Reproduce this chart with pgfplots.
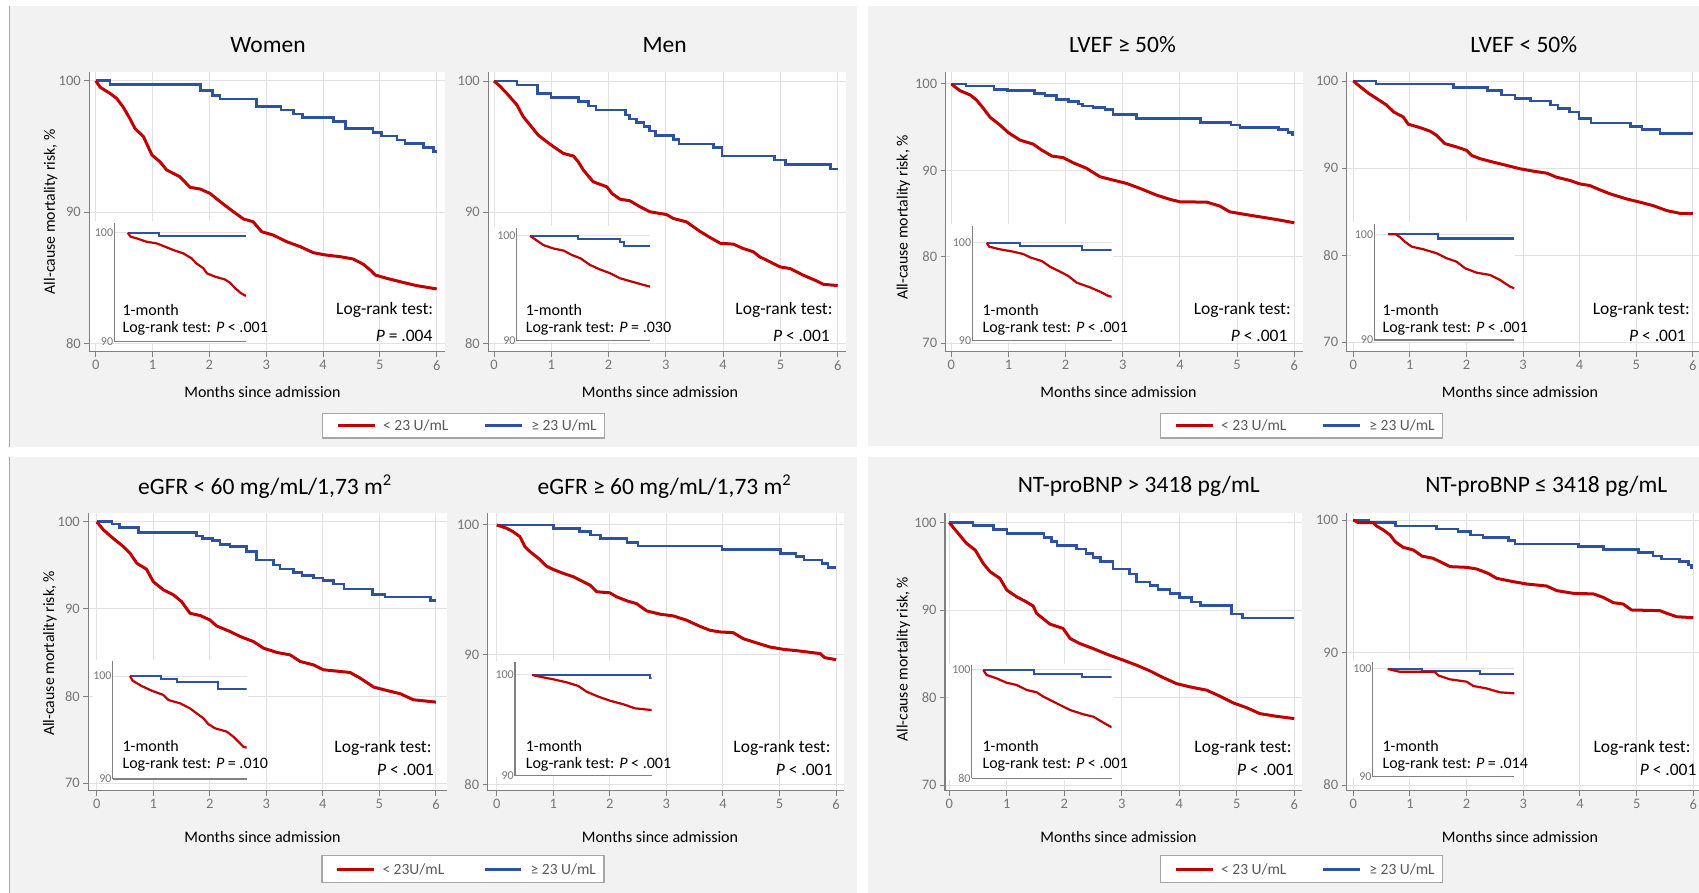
\documentclass[border=0pt]{standalone}
\usepackage{fontspec}
\setmainfont{Carlito}
\usepackage{pgfplots}
\pgfplotsset{compat=1.18}

\definecolor{kmred}{RGB}{192,0,0}
\definecolor{kmblue}{RGB}{44,82,160}
\definecolor{panelgray}{RGB}{242,242,242}
\definecolor{gridgray}{RGB}{226,226,226}
\definecolor{axisgray}{RGB}{128,128,128}
\definecolor{tickgray}{RGB}{118,118,118}
\definecolor{leggray}{RGB}{89,89,89}
\definecolor{boxgray}{RGB}{166,166,166}

\newcommand\fs[1]{\fontsize{#1}{#1}\selectfont}

\pgfplotsset{
  km/.style={
    scale only axis, anchor=south west,
    axis background/.style={fill=white},
    axis x line*=bottom, axis y line*=left,
    axis line style={draw=axisgray, line width=1.3pt},
    tick align=outside, major tick length=5pt,
    tick style={draw=axisgray, line width=1pt},
    grid=major, grid style={draw=gridgray, line width=1pt},
    xtick={0,...,6},
    ticklabel style={font=\fs{14.5}, text=tickgray},
    /pgf/number format/assume math mode=true,
  },
  kmin/.style={
    scale only axis, anchor=south west,
    axis x line*=bottom, axis y line*=left,
    axis line style={draw=axisgray, line width=1.3pt},
    xtick=\empty, major tick length=0pt,
    ymajorgrids, grid style={draw=gridgray, line width=1pt},
    yticklabel style={font=\fs{12}, text=tickgray, inner sep=1pt},
    /pgf/number format/assume math mode=true,
    xmax=1,
  },
  kmR/.style={draw=kmred, line width=3pt, line join=round, mark=none},
  kmB/.style={draw=kmblue, line width=2.6pt, const plot mark left, mark=none},
  kmRi/.style={draw=kmred, line width=2.2pt, line join=round, mark=none},
  kmBi/.style={draw=kmblue, line width=2.2pt, const plot mark left, mark=none},
}

% inset text: x, y1, y2, p-value text
\newcommand\insettext[4]{%
  \node[anchor=west, font=\fs{16}] at (#1,-#2) {1-month};
  \node[anchor=west, font=\fs{16}] at (#1,-#3) {Log-rank test: #4};}
% main text: x1, y1, x2, y2, p-value text
\newcommand\maintext[5]{%
  \node[anchor=east, font=\fs{17.5}] at (#1,-#2) {Log-rank test:};
  \node[anchor=east, font=\fs{17.5}] at (#3,-#4) {#5};}
% legend: left, top, bottom, red label
\newcommand\kmlegend[4]{%
  \draw[boxgray, line width=1.3pt, fill=white] (#1,-#2) rectangle (#1+282,-#3);
  \draw[kmred, line width=3pt] (#1+15.3,{-(#2+#3)/2}) -- (#1+52.3,{-(#2+#3)/2});
  \node[anchor=west, font=\fs{15.5}, text=leggray, inner sep=0pt] at (#1+60.3,{-(#2+#3)/2}) {#4};
  \draw[kmblue, line width=3pt] (#1+162.5,{-(#2+#3)/2}) -- (#1+199,{-(#2+#3)/2});
  \node[anchor=west, font=\fs{15.5}, text=leggray, inner sep=0pt] at (#1+208.5,{-(#2+#3)/2}) {≥ 23 U/mL};}

\begin{document}
\begin{tikzpicture}[x=1pt, y=1pt]
\useasboundingbox (0,0) rectangle (1699,-893);
\fill[white] (0,0) rectangle (1699,-893);
% panel backgrounds
\fill[panelgray] (9.3,-6) rectangle (856.7,-446.7);
\fill[panelgray] (867.7,-6) rectangle (1699,-446);
\fill[panelgray] (9.3,-457.3) rectangle (856.7,-893);
\fill[panelgray] (867.7,-457.3) rectangle (1699,-893);
\draw[boxgray, line width=1pt] (9.3,-6) -- (9.3,-446.7);
\draw[boxgray, line width=1pt] (9.3,-457.3) -- (9.3,-893);

% ---------------- Women ----------------
\begin{axis}[km, at={(89.3pt,-351.7pt)}, width=355.7pt, height=280pt,
  xmin=-0.113, xmax=6.146, ymin=79.36, ymax=100.69, ytick={80,90,100}]
\addplot[kmB] coordinates {(0,100) (0.25,99.72) (1.84,99.24) (2.05,98.86) (2.19,98.6) (2.83,98.02) (3.26,97.77) (3.48,97.46) (3.64,97.18) (4.18,96.88) (4.39,96.37) (4.88,96.04) (5.03,95.79) (5.3,95.48) (5.44,95.23) (5.77,94.9) (5.94,94.6) (6,94.6)};
\addplot[kmR] coordinates {(0,100) (0.08,99.5) (0.25,99.04) (0.37,98.65) (0.48,98.02) (0.6,97.13) (0.69,96.37) (0.84,95.74) (0.99,94.34) (1.13,93.83) (1.25,93.2) (1.48,92.69) (1.66,91.88) (1.84,91.75) (2.01,91.42) (2.19,90.79) (2.42,90.03) (2.6,89.47) (2.77,89.26) (2.92,88.5) (3.12,88.25) (3.36,87.74) (3.6,87.36) (3.83,86.9) (4.04,86.73) (4.3,86.6) (4.53,86.42) (4.71,86.02) (4.83,85.58) (4.92,85.2) (5.12,84.95) (5.35,84.7) (5.64,84.4) (6,84.14)};
\end{axis}
\fill[white] (93,-221) rectangle (247,-342.5);
\begin{axis}[kmin, at={(114.3pt,-341.7pt)}, width=131.7pt, height=118.7pt,
  xmin=-0.113, ymin=90, ymax=100.89, ytick={90,100}]
\addplot[kmBi] coordinates {(0,100) (0.265,99.72) (1,99.72)};
\addplot[kmRi] coordinates {(0,100) (0.025,99.63) (0.076,99.48) (0.16,99.17) (0.245,99.02) (0.315,98.72) (0.386,98.41) (0.47,98.1) (0.54,97.65) (0.58,97.19) (0.64,96.73) (0.67,96.27) (0.74,95.96) (0.82,95.72) (0.865,95.41) (0.91,94.89) (0.96,94.43) (1,94.19)};
\end{axis}
\insettext{119}{310}{328.3}{\textit{P} < .001}
\maintext{436.7}{310}{436}{336}{\textit{P} = .004}

% ---------------- Men ----------------
\begin{axis}[km, at={(488.3pt,-351.7pt)}, width=357.7pt, height=280pt,
  xmin=-0.1, xmax=6.145, ymin=79.36, ymax=100.71, ytick={80,90,100}]
\addplot[kmB] coordinates {(0,100) (0.40,99.7) (0.76,99.06) (0.995,98.73) (1.47,98.42) (1.65,98.09) (1.78,97.79) (2.29,97.4) (2.36,97.1) (2.49,96.82) (2.62,96.51) (2.71,96.18) (2.82,95.85) (3.13,95.55) (3.23,95.19) (3.83,94.91) (3.98,94.27) (4.9,93.97) (5.09,93.64) (5.87,93.28) (6,93.28)};
\addplot[kmR] coordinates {(0,100) (0.1,99.62) (0.25,98.93) (0.4,98.17) (0.51,97.28) (0.63,96.64) (0.77,95.88) (0.92,95.37) (1.04,94.99) (1.21,94.48) (1.39,94.27) (1.47,93.84) (1.56,93.21) (1.73,92.32) (1.97,91.93) (2.06,91.42) (2.2,90.99) (2.37,90.87) (2.55,90.41) (2.72,90.03) (3.01,89.82) (3.13,89.52) (3.36,89.26) (3.59,88.55) (3.77,88.07) (3.95,87.63) (4.18,87.56) (4.35,87.23) (4.53,86.97) (4.64,86.59) (4.82,86.21) (4.99,85.83) (5.17,85.7) (5.4,85.19) (5.63,84.76) (5.75,84.5) (6,84.4)};
\end{axis}
\fill[white] (492,-226) rectangle (651,-342);
\begin{axis}[kmin, at={(516.7pt,-340.7pt)}, width=133.3pt, height=113pt,
  xmin=-0.111, ymin=90, ymax=100.79, ytick={90,100}]
\addplot[kmBi] coordinates {(0,100) (0.40,99.68) (0.75,99.39) (0.78,99.04) (1,99.04)};
\addplot[kmRi] coordinates {(0,100) (0.03,99.78) (0.11,99.14) (0.19,98.82) (0.28,98.6) (0.35,98.18) (0.42,97.87) (0.5,97.23) (0.58,96.82) (0.67,96.43) (0.75,95.96) (0.83,95.7) (0.92,95.41) (1,95.16)};
\end{axis}
\insettext{522.3}{310}{328.3}{\textit{P} = .030}
\maintext{836}{310}{833.3}{336}{\textit{P} < .001}

% ---------------- LVEF >= 50 ----------------
\begin{axis}[km, at={(945.7pt,-351.7pt)}, width=357pt, height=280pt,
  xmin=-0.098, xmax=6.147, ymin=69.03, ymax=101.42, ytick={70,80,90,100}]
\addplot[kmB] coordinates {(0,100) (0.26,99.77) (0.75,99.38) (0.98,99.23) (1.45,98.92) (1.64,98.69) (1.84,98.22) (2.05,97.95) (2.22,97.68) (2.3,97.45) (2.48,97.3) (2.69,97.07) (2.83,96.49) (3.24,96.02) (4.36,95.52) (4.89,95.25) (5.05,94.98) (5.72,94.75) (5.89,94.36) (5.97,94.09) (6,94.09)};
\addplot[kmR] coordinates {(0,100) (0.15,99.23) (0.33,98.73) (0.44,98.15) (0.56,97.18) (0.68,96.14) (0.85,95.25) (1.0,94.36) (1.2,93.51) (1.43,93.05) (1.58,92.36) (1.76,91.66) (1.96,91.47) (2.13,90.89) (2.37,90.23) (2.6,89.27) (2.83,88.88) (3.07,88.49) (3.3,87.92) (3.59,87.14) (3.83,86.64) (4.0,86.37) (4.47,86.33) (4.7,85.87) (4.87,85.21) (5.11,84.94) (5.4,84.63) (5.69,84.32) (6,83.94)};
\end{axis}
\fill[white] (949.5,-224.5) rectangle (1112.5,-342);
\begin{axis}[kmin, at={(972.3pt,-340.7pt)}, width=139.4pt, height=114.7pt,
  xmin=-0.115, ymin=90, ymax=101.7, ytick={90,100}]
\addplot[kmBi] coordinates {(0,100) (0.267,99.69) (0.76,99.25) (1,99.25)};
\addplot[kmRi] coordinates {(0,100) (0.02,99.59) (0.107,99.32) (0.213,99.08) (0.293,98.84) (0.347,98.5) (0.44,98.13) (0.507,97.55) (0.587,97.04) (0.653,96.6) (0.72,95.92) (0.827,95.44) (0.907,95.0) (0.973,94.56) (1,94.49)};
\end{axis}
\insettext{979}{310}{328.3}{\textit{P} < .001}
\maintext{1294.3}{310}{1291}{336}{\textit{P} < .001}

% ---------------- LVEF < 50 ----------------
\begin{axis}[km, at={(1346.7pt,-351.7pt)}, width=352.3pt, height=280pt,
  xmin=-0.117, xmax=6.11, ymin=68.92, ymax=101.07, ytick={70,80,90,100}]
\addplot[kmB] coordinates {(0,100) (0.40,99.65) (1.77,99.23) (2.37,98.88) (2.62,98.38) (2.86,98.0) (3.13,97.69) (3.49,97.23) (3.62,96.85) (3.82,96.46) (3.99,95.69) (4.2,95.19) (4.9,94.81) (5.1,94.42) (5.42,93.96) (6,93.96)};
\addplot[kmR] coordinates {(0,100) (0.12,99.35) (0.27,98.58) (0.41,98.0) (0.59,97.23) (0.71,96.46) (0.88,95.88) (0.97,95.04) (1.18,94.65) (1.36,94.23) (1.47,93.77) (1.62,92.81) (1.83,92.42) (2.0,92.04) (2.09,91.46) (2.24,91.08) (2.47,90.69) (2.71,90.31) (2.95,89.92) (3.18,89.65) (3.42,89.42) (3.59,88.96) (3.83,88.58) (4.0,88.19) (4.18,88.0) (4.36,87.5) (4.54,87.04) (4.83,86.46) (5.07,86.08) (5.3,85.69) (5.54,85.12) (5.77,84.81) (6,84.81)};
\end{axis}
\fill[white] (1351,-222.5) rectangle (1515,-341.5);
\begin{axis}[kmin, at={(1374.3pt,-340pt)}, width=140pt, height=116pt,
  xmin=-0.111, ymin=90, ymax=100.97, ytick={90,100}]
\addplot[kmBi] coordinates {(0,100) (0.397,99.59) (1,99.59)};
\addplot[kmRi] coordinates {(0,100) (0.06,100) (0.093,99.72) (0.13,99.31) (0.185,98.83) (0.278,98.58) (0.384,98.2) (0.463,97.73) (0.542,97.41) (0.61,96.78) (0.70,96.37) (0.807,96.15) (0.886,95.68) (0.966,95.05) (1,94.89)};
\end{axis}
\insettext{1379}{310}{328.3}{\textit{P} < .001}
\maintext{1693.3}{310}{1689.3}{336}{\textit{P} < .001}

% ---------------- eGFR < 60 ----------------
\begin{axis}[km, at={(88.3pt,-790.7pt)}, width=358.4pt, height=277.7pt,
  xmin=-0.149, xmax=6.19, ymin=69.15, ymax=101.0, ytick={70,80,90,100}]
\addplot[kmB] coordinates {(0,100) (0.27,99.73) (0.40,99.35) (0.74,98.78) (1.77,98.36) (1.87,98.1) (2.05,97.83) (2.18,97.41) (2.36,97.15) (2.65,96.58) (2.83,95.62) (3.13,95.05) (3.24,94.56) (3.48,94.18) (3.63,93.8) (3.83,93.53) (4.0,93.26) (4.19,92.88) (4.37,92.27) (4.88,91.62) (5.1,91.35) (5.9,90.97) (6,90.97)};
\addplot[kmR] coordinates {(0,100) (0.12,99.05) (0.29,98.1) (0.47,97.15) (0.59,96.38) (0.71,95.23) (0.88,94.56) (1.0,93.13) (1.18,92.18) (1.36,91.6) (1.5,90.84) (1.65,89.5) (1.83,89.24) (2.0,88.74) (2.12,88.05) (2.36,87.4) (2.54,86.83) (2.77,86.26) (2.95,85.5) (3.19,85.0) (3.42,84.73) (3.6,83.97) (3.83,83.59) (4.01,83.02) (4.48,82.71) (4.66,82.06) (4.9,81.03) (5.13,80.65) (5.37,80.27) (5.6,79.58) (6,79.31)};
\end{axis}
\fill[white] (92.5,-659.5) rectangle (247.5,-780);
\begin{axis}[kmin, at={(112.7pt,-779pt)}, width=134pt, height=118pt,
  xmin=-0.148, ymin=90, ymax=101.46, ytick={90,100}]
\addplot[kmBi] coordinates {(0,100) (0.266,99.68) (0.4,99.39) (0.757,98.71) (1,98.71)};
\addplot[kmRi] coordinates {(0,100) (0.023,99.55) (0.1,99.03) (0.186,98.58) (0.286,98.16) (0.33,97.67) (0.43,97.35) (0.514,96.86) (0.571,96.38) (0.63,95.89) (0.67,95.34) (0.73,94.92) (0.83,94.6) (0.886,94.11) (0.93,93.62) (0.97,93.14) (1,93.04)};
\end{axis}
\insettext{119}{745.7}{764}{\textit{P} = .010}
\maintext{435}{747.7}{437.3}{770}{\textit{P} < .001}

% ---------------- eGFR >= 60 ----------------
\begin{axis}[km, at={(487.7pt,-790.7pt)}, width=356.3pt, height=277.4pt,
  xmin=-0.159, xmax=6.14, ymin=79.51, ymax=100.9, ytick={80,90,100}]
\addplot[kmB] coordinates {(0,100) (1.0,99.74) (1.46,99.48) (1.66,99.23) (1.83,98.97) (2.3,98.66) (2.5,98.37) (3.98,98.12) (5.02,97.81) (5.29,97.55) (5.43,97.29) (5.75,97.04) (5.86,96.72) (6,96.72)};
\addplot[kmR] coordinates {(0,100) (0.18,99.74) (0.29,99.48) (0.41,99.1) (0.5,98.32) (0.59,97.94) (0.74,97.42) (0.88,96.83) (1.0,96.57) (1.18,96.26) (1.36,96.0) (1.53,95.62) (1.65,95.36) (1.77,94.85) (2.0,94.77) (2.12,94.46) (2.3,94.15) (2.47,93.94) (2.65,93.38) (2.89,93.12) (3.12,92.99) (3.36,92.65) (3.59,92.19) (3.77,91.88) (3.95,91.75) (4.18,91.7) (4.36,91.23) (4.6,90.9) (4.83,90.59) (5.07,90.41) (5.36,90.28) (5.72,90.08) (5.8,89.77) (6,89.61)};
\end{axis}
\fill[white] (492,-661) rectangle (652.5,-777);
\begin{axis}[kmin, at={(515pt,-775.7pt)}, width=136.7pt, height=113.4pt,
  xmin=-0.145, ymin=90, ymax=101.26, ytick={90,100}]
\addplot[kmBi] coordinates {(0,100) (0.986,99.74) (1,99.74)};
\addplot[kmRi] coordinates {(0,100) (0.064,99.83) (0.176,99.57) (0.288,99.27) (0.385,98.91) (0.455,98.34) (0.553,97.85) (0.65,97.45) (0.763,97.09) (0.86,96.69) (1,96.52)};
\end{axis}
\insettext{522.3}{745.7}{764}{\textit{P} < .001}
\maintext{834}{747.7}{836}{770}{\textit{P} < .001}

% ---------------- NT-proBNP > 3418 ----------------
\begin{axis}[km, at={(945pt,-790.7pt)}, width=356.7pt, height=277.7pt,
  xmin=-0.075, xmax=6.13, ymin=69.35, ymax=101.11, ytick={70,80,90,100}]
\addplot[kmB] coordinates {(0,100) (0.41,99.66) (0.77,99.24) (1.0,98.78) (1.65,98.32) (1.78,97.82) (1.87,97.37) (2.21,96.98) (2.38,96.49) (2.5,96.03) (2.63,95.53) (2.85,94.69) (3.13,94.12) (3.26,93.24) (3.49,92.79) (3.63,92.37) (3.84,91.91) (4.0,91.45) (4.21,90.95) (4.37,90.5) (4.91,89.54) (5.1,89.12) (6,89.12)};
\addplot[kmR] coordinates {(0,100) (0.13,98.97) (0.3,97.63) (0.45,96.87) (0.59,95.34) (0.71,94.39) (0.88,93.63) (1.0,92.29) (1.17,91.53) (1.34,90.95) (1.46,90.46) (1.52,89.62) (1.75,88.4) (1.98,87.9) (2.1,86.76) (2.27,86.18) (2.5,85.61) (2.74,84.96) (3.03,84.27) (3.26,83.7) (3.49,83.05) (3.72,82.29) (3.95,81.6) (4.19,81.22) (4.48,80.84) (4.71,80.15) (4.94,79.39) (5.17,78.85) (5.4,78.17) (5.69,77.86) (6,77.6)};
\end{axis}
\fill[white] (949,-663.5) rectangle (1112.5,-779.5);
\begin{axis}[kmin, at={(971.7pt,-778.3pt)}, width=140pt, height=113.3pt,
  xmin=-0.09, ymin=80, ymax=100.92, ytick={80,100}]
\addplot[kmBi] coordinates {(0,100) (0.395,99.26) (0.766,98.65) (1,98.65)};
\addplot[kmRi] coordinates {(0,100) (0.026,99.08) (0.104,98.46) (0.18,97.66) (0.26,97.23) (0.338,96.31) (0.416,95.88) (0.468,95.08) (0.571,93.85) (0.675,92.62) (0.779,91.82) (0.857,91.38) (0.935,90.28) (1,89.42)};
\end{axis}
\insettext{979}{745.7}{764}{\textit{P} < .001}
\maintext{1295}{747.7}{1297.3}{770}{\textit{P} < .001}

% ---------------- NT-proBNP <= 3418 ----------------
\begin{axis}[km, at={(1346.7pt,-790.7pt)}, width=352.3pt, height=277.7pt,
  xmin=-0.116, xmax=6.1, ymin=79.57, ymax=100.53, ytick={80,90,100}]
\addplot[kmB] coordinates {(0,100) (0.28,99.8) (0.74,99.55) (1.47,99.32) (1.85,99.12) (2.07,98.87) (2.29,98.67) (2.74,98.44) (2.85,98.19) (3.97,97.99) (4.41,97.79) (5.03,97.56) (5.29,97.28) (5.44,97.06) (5.76,96.86) (5.91,96.6) (5.97,96.4) (6,96.4)};
\addplot[kmR] coordinates {(0,100) (0.09,99.8) (0.35,99.8) (0.41,99.55) (0.53,99.25) (0.65,98.87) (0.74,98.36) (0.88,97.94) (1.06,97.74) (1.21,97.28) (1.41,97.11) (1.59,96.73) (1.71,96.48) (2.0,96.43) (2.18,96.3) (2.38,95.97) (2.53,95.6) (2.82,95.35) (3.06,95.17) (3.41,95.02) (3.59,94.67) (3.88,94.47) (4.24,94.42) (4.41,94.16) (4.59,93.76) (4.76,93.66) (4.91,93.21) (5.41,93.16) (5.53,92.96) (5.71,92.7) (6,92.63)};
\end{axis}
\fill[white] (1351,-661) rectangle (1515,-778);
\begin{axis}[kmin, at={(1372.7pt,-776.7pt)}, width=141.6pt, height=114.4pt,
  xmin=-0.118, ymin=90, ymax=100.62, ytick={90,100}]
\addplot[kmBi] coordinates {(0,100) (0.268,99.85) (0.729,99.54) (1,99.54)};
\addplot[kmRi] coordinates {(0,100) (0.092,99.75) (0.37,99.75) (0.40,99.4) (0.492,99.04) (0.624,98.82) (0.676,98.42) (0.78,98.2) (0.887,97.83) (1,97.74)};
\end{axis}
\insettext{1379}{745.7}{764}{\textit{P} = .014}
\maintext{1694}{747.7}{1700}{770}{\textit{P} < .001}

% titles
\node[font=\fs{23.5}] at (268,-45) {Women};
\node[font=\fs{23.5}] at (664.7,-45) {Men};
\node[font=\fs{23.5}] at (1122.5,-45) {LVEF ≥ 50\%};
\node[font=\fs{23.5}] at (1523.8,-45) {LVEF < 50\%};
\node[font=\fs{23.5}] at (265,-486.7) {eGFR < 60 mg/mL/1,73 m\textsuperscript{2}};
\node[font=\fs{23.5}] at (664.5,-486.7) {eGFR ≥ 60 mg/mL/1,73 m\textsuperscript{2}};
\node[font=\fs{23.5}] at (1138.7,-486.7) {NT-proBNP > 3418 pg/mL};
\node[font=\fs{23.5}] at (1546.2,-486.7) {NT-proBNP ≤ 3418 pg/mL};

% axis labels
\foreach \x/\y in {50.7/211.7, 903.3/217.5, 50/653.3, 903.3/659.2}
  \node[font=\fs{15.8}, rotate=90] at (\x,-\y) {All-cause mortality risk, \%};
\foreach \x/\y in {262.5/391.7, 660/391.7, 1118.5/391.7, 1520/391.7, 262.5/836.7, 660/836.7, 1118.5/836.7, 1520/836.7}
  \node[font=\fs{16}] at (\x,-\y) {Months since admission};

% legends
\kmlegend{322.7}{413.3}{438}{< 23 U/mL}
\kmlegend{1160.7}{413.3}{438}{< 23 U/mL}
\kmlegend{322}{855.7}{882.3}{< 23U/mL}
\kmlegend{1160.7}{855.7}{882.3}{< 23 U/mL}
\end{tikzpicture}
\end{document}
